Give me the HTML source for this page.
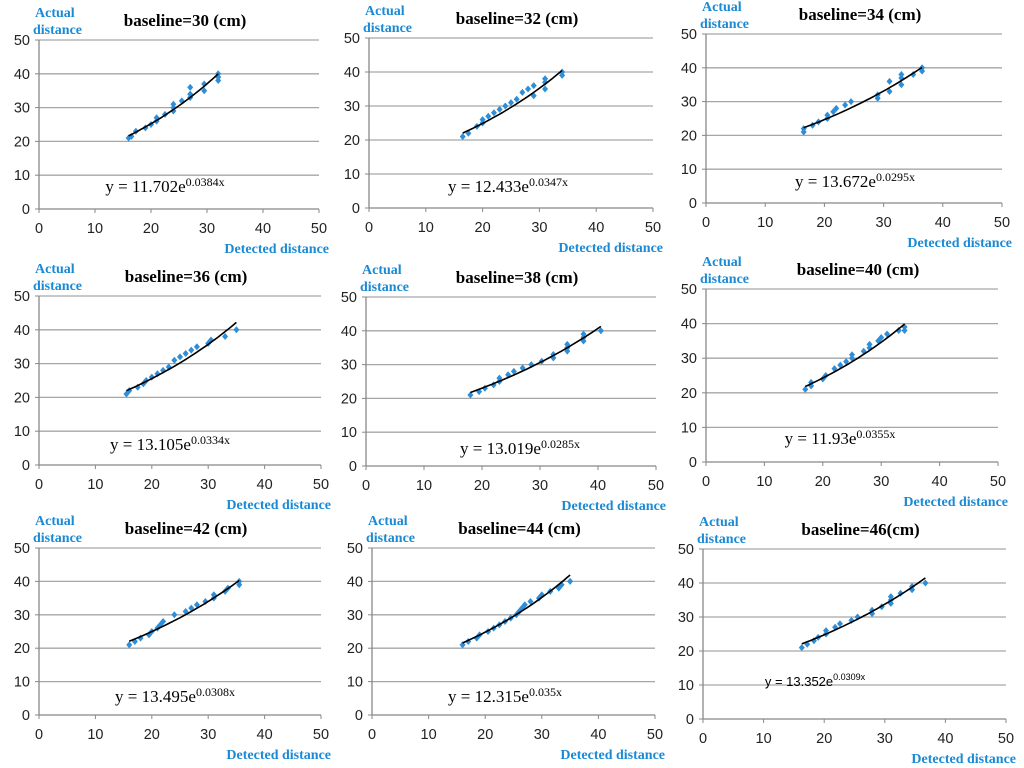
<!DOCTYPE html>
<html><head><meta charset="utf-8"><style>
body{margin:0;background:#fff;width:1024px;height:768px;overflow:hidden}
svg{display:block}
.t{font-family:"Liberation Serif",serif;font-weight:bold;font-size:17px;fill:#000}
.b{font-family:"Liberation Serif",serif;font-weight:bold;font-size:14px;fill:#1a8ad4}
.k{font-family:"Liberation Sans",sans-serif;font-size:14.5px;fill:#222}
.e{font-family:"Liberation Serif",serif;font-size:17px;fill:#000}
</style></head><body>
<svg id="c" width="1024" height="768"></svg>
<script>
const titles=["baseline=30 (cm)","baseline=32 (cm)","baseline=34 (cm)","baseline=36 (cm)","baseline=38 (cm)","baseline=40 (cm)","baseline=42 (cm)","baseline=44 (cm)","baseline=46(cm)"];
const coefA=[11.702,12.433,13.672,13.105,13.019,11.93,13.495,12.315,13.352];
const coefB=[0.0384,0.0347,0.0295,0.0334,0.0285,0.0355,0.0308,0.035,0.0309];
const ticks=[0,10,20,30,40,50];
const d30=[[16,21],[16.5,21.5],[17.3,23],[19,24],[20,25],[21,26],[21,27],[22.5,28],[24,29],[24,30],[24,31],[25.5,32],[27,33],[27,34],[27,36],[29.5,35],[29.5,37],[32,38],[32,39],[32,40]];
const d32=[[16.5,21],[17.5,22],[19,24],[20,25],[20,26],[21,27],[22,28],[23,29],[24,30],[25,31],[26,32],[27,34],[28,35],[29,33],[29,36],[31,35],[31,37],[31,38],[34,39],[34,40]];
const d34=[[16.5,21],[16.5,22],[18,23],[19,24],[20.5,25],[20.5,26],[21.5,27],[22,28],[23.5,29],[24.5,30],[29,31],[29,32],[31,33],[31,36],[33,35],[33,37],[33,38],[35,38],[36.5,39],[36.5,40]];
const d36=[[15.5,21],[16,22],[17.5,23],[18.5,24],[19,25],[20,26],[21,27],[22,28],[23,29],[24,31],[25,32],[26,33],[27,34],[28,35],[30,36],[30.5,37],[33,38],[35,40]];
const d38=[[18,21],[19.5,22],[20.5,23],[22,24],[23,25],[23,26],[24.5,27],[25.5,28],[27,29],[28.5,30],[30.3,31],[32.3,32],[32.3,33],[34.7,34],[34.7,35],[34.7,36],[37.5,37],[37.5,38],[37.5,39],[40.5,40]];
const d40=[[17,21],[18,22],[18,23],[20,24],[20.5,25],[22,27],[23,28],[24,29],[25,30],[25,31],[27,32],[28,33],[28,34],[29.5,35],[30,36],[31,37],[33,38],[34,39],[34,38]];
const d42=[[16,21],[17,22],[18,23],[19.5,24],[20,25],[21,26],[21.5,27],[22,28],[24,30],[26,31],[27,32],[28,33],[29.5,34],[31,35],[31,36],[33,37],[33.5,38],[35.5,39],[35.5,40]];
const d44=[[16,21],[17,22],[18.5,23],[19,24],[20.5,25],[21.5,26],[22.5,27],[23.5,28],[24.5,29],[25.5,30],[26,31],[26.5,32],[27,33],[28,34],[29.5,35],[30,36],[31.5,37],[33,38],[33.5,39],[35,40]];
const d46=[[16.3,21],[17.2,22],[18.3,23],[19,24],[20.3,25],[20.3,26],[21.8,27],[22.6,28],[24.5,29],[25.5,30],[27.9,31],[27.9,32],[29.5,33],[31,34],[31,35],[31,36],[32.6,37],[34.5,38],[34.5,39],[36.7,40]];
const datasets=[d30,d32,d34,d36,d38,d40,d42,d44,d46];
const boxes=[[39,319,40,209],[369,653,38,208],[706,1002,34,203],[39,321,296,465],[366,656,297,466],[706,998,289,462],[39,321,548,715],[372,655,548,715],[703,1006,549,719]];
const eqPos=[[165,192],[508,192],[855,187],[170,450],[520,454],[840,444],[175,702],[505,702],[815,686]];
const NS="http://www.w3.org/2000/svg";
const svg=document.getElementById('c');
function mk(tag,at,parent,txt){const e=document.createElementNS(NS,tag);for(const k in at)e.setAttribute(k,at[k]);if(txt!==undefined)e.textContent=txt;(parent||svg).appendChild(e);return e;}
datasets.forEach((data,i)=>{
  const [x0,x1,yT,yB]=boxes[i];
  const sx=v=>x0+(x1-x0)*v/50, sy=v=>yB-(yB-yT)*v/50;
  const g=mk('g',{});
  
  
  ticks.forEach(t=>{
    if(t>0){const l=mk('line',{x1:x0,x2:x1,y1:sy(t),y2:sy(t),stroke:'#a6a6a6','stroke-width':1.3},g);
      }
    mk('line',{x1:x0-4,x2:x0,y1:sy(t),y2:sy(t),stroke:'#888'},g);
    mk('line',{x1:sx(t),x2:sx(t),y1:yB,y2:yB+4,stroke:'#888'},g);
    const yl=mk('text',{x:x0-9,y:sy(t)+5,'text-anchor':'end',class:'k'},g,t);
    
    const xl=mk('text',{x:sx(t),y:yB+24,'text-anchor':'middle',class:'k'},g,t);
    
  });
  mk('line',{x1:x0,x2:x0,y1:yT,y2:yB,stroke:'#888','stroke-width':1.3},g);
  mk('line',{x1:x0,x2:x1,y1:yB,y2:yB,stroke:'#888','stroke-width':1.3},g);
  const tt=mk('text',{x:(x0+x1)/2+6,y:yT-14,'text-anchor':'middle',class:'t'},g,titles[i]);
  
  const ya=mk('text',{x:x0-4,y:yT-23,class:'b'},g);
  
  mk('tspan',{x:x0-4},ya,'Actual');mk('tspan',{x:x0-6,dy:17},ya,'distance');
  const xa=mk('text',{x:x1+10,y:yB+44,'text-anchor':'end',class:'b'},g,'Detected distance');
  
  data.forEach(p=>{
    const cx=sx(p[0]),cy=sy(p[1]);
    const m=mk('polygon',{points:`${cx},${cy-3.5} ${cx+3},${cy} ${cx},${cy+3.5} ${cx-3},${cy}`,fill:'#2e8ed8'},g);
    
  });
  const xs=data.map(p=>p[0]);const lo=Math.min(...xs),hi=Math.max(...xs);
  let d='';for(let k=0;k<=30;k++){const v=lo+(hi-lo)*k/30;d+=(k?'L':'M')+sx(v).toFixed(1)+','+sy(coefA[i]*Math.exp(coefB[i]*v)).toFixed(1);}
  const tl=mk('path',{d:d,fill:'none',stroke:'#000','stroke-width':1.6},g);
  
  const small=i===8;
  const eq=mk('text',{x:eqPos[i][0],y:eqPos[i][1],'text-anchor':'middle',class:'e',style:small?'font-family:"Liberation Sans",sans-serif;font-size:13px':''},g);
  
  mk('tspan',{},eq,'y = '+coefA[i]+'e');
  mk('tspan',{dy:-6,style:'font-size:'+(small?9:12)+'px'},eq,coefB[i]+'x');
});
</script>
</body></html>
